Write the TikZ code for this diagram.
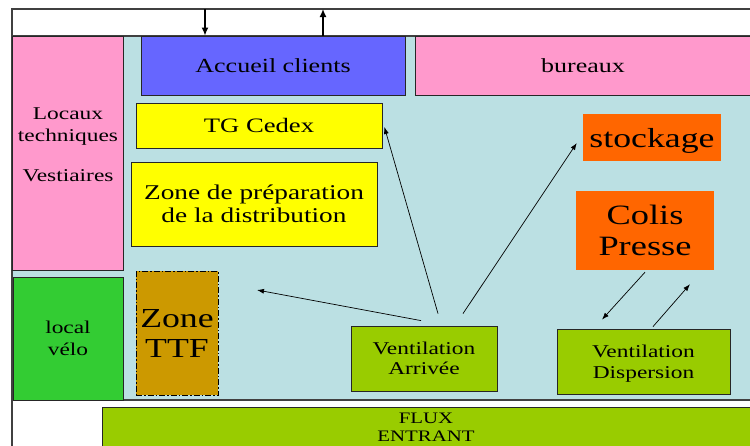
\documentclass[tikz,border=0pt]{standalone}
\usepackage{fontspec}
\setmainfont{Liberation Serif}[FakeStretch=1.3]
\usetikzlibrary{calc,arrows.meta}

\definecolor{fondbleu}{HTML}{BBE0E3}
\definecolor{rose}{HTML}{FF99CC}
\definecolor{bleu}{HTML}{6666FF}
\definecolor{jaune}{HTML}{FFFF00}
\definecolor{orange}{HTML}{FF6600}
\definecolor{vert}{HTML}{33CC33}
\definecolor{olive}{HTML}{99CC00}
\definecolor{ocre}{HTML}{CC9900}

\tikzset{
  cadre/.style={draw=black!75, line width=1.4pt},
  zone/.style={draw=black!85, line width=0.8pt, inner sep=0pt, align=center},
  orangebox/.style={fill=orange, inner sep=0pt, align=center},
  texte/.style={inner sep=0pt, align=center},
  fleche/.style={-{Latex[length=7pt,width=5pt]}, line width=0.7pt},
  grossefleche/.style={-{Latex[length=8pt,width=7pt]}, line width=1.5pt},
}

\begin{document}
\begin{tikzpicture}[x=1pt, y=-1pt]
\useasboundingbox (0,0) rectangle (750,445);
\clip (0,0) rectangle (750,445);
\fill[white] (0,0) rectangle (750,445);

% cadre du batiment
\draw[cadre] (12,470) -- (12,9) -- (770,9);
\draw[cadre, fill=fondbleu] (12,36) rectangle (770,400);

% locaux
\node[zone, fill=rose, minimum width=111, minimum height=234] (locaux) at (67.5,153) {};
\node[texte, anchor=north, font=\fontsize{18}{22}\selectfont] (locauxtxt) at (68,108)
  {Locaux\\techniques\\[18pt]Vestiaires};
\node[zone, fill=vert, minimum width=110, minimum height=123, text depth=0pt, font=\fontsize{18}{22}\selectfont] (velo) at (68,338.5) {local\\vélo};
\node[zone, fill=ocre, draw=black, dash pattern=on 6pt off 2pt on 1.5pt off 2pt,
  minimum width=82, minimum height=124, font=\fontsize{27.5}{30}\selectfont] (ttf) at (177,333) {Zone\\TTF};
\node[zone, fill=bleu, minimum width=264, minimum height=59, font=\fontsize{20}{23}\selectfont] (accueil) at (273,65.5) {Accueil clients};
\node[zone, fill=rose, minimum width=336, minimum height=59, font=\fontsize{20}{23}\selectfont] (bureaux) at (583,65.5) {bureaux};
\node[zone, fill=jaune, minimum width=246, minimum height=45, font=\fontsize{20.5}{23}\selectfont] (tg) at (259,125.5) {TG Cedex};
\node[zone, fill=jaune, minimum width=246, minimum height=84, font=\fontsize{21}{23.5}\selectfont] (prep) at (254,204) {Zone de préparation\\de la distribution};
\node[orangebox, minimum width=138, minimum height=47, text depth=0pt, font=\fontsize{27.5}{30}\selectfont] (stockage) at (652,137.5) {stockage};
\node[orangebox, minimum width=138, minimum height=79, font=\fontsize{28}{31}\selectfont] (colis) at (645,230.5) {Colis\\Presse};
\node[zone, fill=olive, minimum width=146, minimum height=65, font=\fontsize{18}{20.5}\selectfont] (va) at (424,358.5) {Ventilation\\Arrivée};
\node[zone, fill=olive, minimum width=173, minimum height=65, text depth=0pt, font=\fontsize{18}{20.5}\selectfont] (vd) at (643.5,361.5) {Ventilation\\Dispersion};
\node[zone, fill=olive, minimum width=660, minimum height=80, anchor=north west] (flux) at (102,407) {};
\node[texte, anchor=north, font=\fontsize{16}{18}\selectfont] (fluxtxt) at (426,413) {FLUX\\ENTRANT};

% entree / sortie clients
\coordinate (entree) at (205,9);
\coordinate (sortie) at (323,9);
\draw[grossefleche] (entree) -- (accueil.north -| entree);
\draw[grossefleche] (accueil.north -| sortie) -- (sortie);

% flux de ventilation
\coordinate (versttf) at (257,290);
\draw[fleche] ($(va.north)+(-3,-5)$) -- (versttf);
\draw[fleche] ($(va.north)+(14,-12)$) -- ($(tg.east)+(2,1.5)$);
\draw[fleche] ($(va.north)+(39,-12)$) -- ($(stockage.west)+(-6,5.5)$);
\draw[fleche] ($(colis.south)+(0,2)$) -- ($(vd.north)+(-41.5,-9)$);
\draw[fleche] ($(vd.north)+(9.5,-2)$) -- ($(colis.south)+(45,14)$);
\end{tikzpicture}
\end{document}
